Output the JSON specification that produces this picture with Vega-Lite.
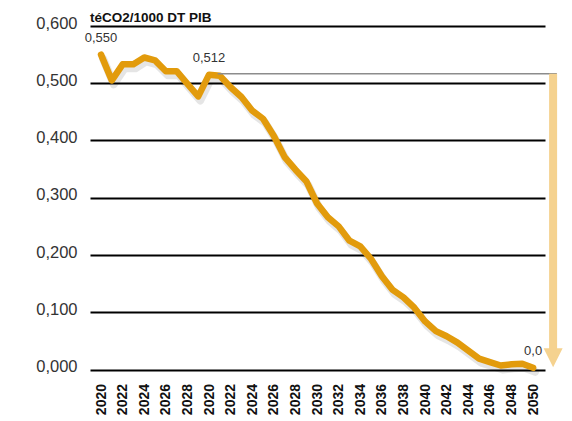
{
  "$schema": "https://vega.github.io/schema/vega-lite/v6.json",
  "width": 455,
  "height": 343.5,
  "autosize": {"type": "none"},
  "padding": {"left": 90, "top": 26, "right": 27, "bottom": 51.5},
  "config": {"view": {"stroke": null}, "font": "Liberation Sans"},
  "title": {
    "text": "téCO2/1000 DT PIB",
    "anchor": "start",
    "frame": "group",
    "font": "Liberation Sans",
    "fontSize": 13.5,
    "fontWeight": "bold",
    "color": "#111111",
    "offset": -9
  },
  "data": {
    "values": [
      {"year": 2010, "value": 0.550, "label": "0,550"},
      {"year": 2011, "value": 0.505},
      {"year": 2012, "value": 0.533},
      {"year": 2013, "value": 0.533},
      {"year": 2014, "value": 0.545},
      {"year": 2015, "value": 0.540},
      {"year": 2016, "value": 0.521},
      {"year": 2017, "value": 0.521},
      {"year": 2018, "value": 0.499},
      {"year": 2019, "value": 0.477},
      {"year": 2020, "value": 0.515, "label": "0,512"},
      {"year": 2021, "value": 0.513},
      {"year": 2022, "value": 0.493},
      {"year": 2023, "value": 0.476},
      {"year": 2024, "value": 0.452},
      {"year": 2025, "value": 0.438},
      {"year": 2026, "value": 0.408},
      {"year": 2027, "value": 0.371},
      {"year": 2028, "value": 0.349},
      {"year": 2029, "value": 0.329},
      {"year": 2030, "value": 0.290},
      {"year": 2031, "value": 0.266},
      {"year": 2032, "value": 0.250},
      {"year": 2033, "value": 0.225},
      {"year": 2034, "value": 0.215},
      {"year": 2035, "value": 0.193},
      {"year": 2036, "value": 0.163},
      {"year": 2037, "value": 0.139},
      {"year": 2038, "value": 0.126},
      {"year": 2039, "value": 0.108},
      {"year": 2040, "value": 0.084},
      {"year": 2041, "value": 0.067},
      {"year": 2042, "value": 0.058},
      {"year": 2043, "value": 0.047},
      {"year": 2044, "value": 0.033},
      {"year": 2045, "value": 0.019},
      {"year": 2046, "value": 0.013},
      {"year": 2047, "value": 0.007},
      {"year": 2048, "value": 0.009},
      {"year": 2049, "value": 0.010},
      {"year": 2050, "value": 0.003, "label": "0,0"}
    ]
  },
  "encoding": {
    "x": {
      "field": "year", "type": "quantitative",
      "scale": {"domain": [2008.98, 2051.1], "nice": false, "zero": false},
      "axis": {
        "title": null,
        "values": [2010, 2012, 2014, 2016, 2018, 2020, 2022, 2024, 2026, 2028, 2030, 2032, 2034, 2036, 2038, 2040, 2042, 2044, 2046, 2048, 2050],
        "tickCount": 50,
        "labelExpr": "datum.value < 2020 ? '' + (datum.value + 10) : '' + datum.value",
        "labelAngle": -90,
        "labelAlign": "right",
        "labelBaseline": "middle",
        "labelFont": "Liberation Sans",
        "labelFontSize": 14,
        "labelFontWeight": "bold",
        "labelColor": "#111111",
        "labelPadding": 14,
        "ticks": false,
        "tickSize": 0,
        "domain": false,
        "grid": false,
        "labelOverlap": false,
        "labelBound": false,
        "labelFlush": false
      }
    },
    "y": {
      "field": "value", "type": "quantitative",
      "scale": {"domain": [0, 0.6], "nice": false},
      "axis": {
        "title": null,
        "values": [0, 0.1, 0.2, 0.3, 0.4, 0.5, 0.6],
        "tickCount": 20,
        "labelExpr": "replace(format(datum.value, '.3f'), '.', ',')",
        "labelFont": "Liberation Sans",
        "labelFontSize": 16.5,
        "labelColor": "#333333",
        "labelPadding": 13,
        "labelOffset": -3,
        "ticks": false,
        "tickSize": 0,
        "domain": false,
        "grid": true,
        "gridColor": "#000000",
        "gridWidth": 2,
        "gridOpacity": 1
      }
    }
  },
  "layer": [
    {
      "mark": {"type": "line", "color": "#000000", "opacity": 0.1, "strokeWidth": 8, "strokeJoin": "round", "strokeCap": "round", "xOffset": 2, "yOffset": 4}
    },
    {
      "mark": {"type": "line", "color": "#E29B0C", "strokeWidth": 6.5, "strokeJoin": "round", "strokeCap": "round"}
    },
    {
      "transform": [{"filter": "isValid(datum.label)"}],
      "mark": {"type": "text", "font": "Liberation Sans", "fontSize": 13, "color": "#333333", "dy": -17, "baseline": "middle", "align": "center"},
      "encoding": {
        "text": {"field": "label"}
      }
    },
    {
      "data": {"values": [{"year": 2020.8, "year2": 2052.2, "value": 0.5165}]},
      "mark": {"type": "rule", "color": "#8c8c8c", "strokeWidth": 1.5},
      "encoding": {
        "x2": {"field": "year2"}
      }
    },
    {
      "data": {"values": [{"year": 2051.85, "value": 0.5165, "value2": 0.036}]},
      "mark": {"type": "rule", "color": "#F5D28F", "strokeWidth": 8, "strokeCap": "butt"},
      "encoding": {
        "y2": {"field": "value2"}
      }
    },
    {
      "data": {"values": [{"year": 2051.85, "value": 0.0205}]},
      "mark": {"type": "point", "shape": "M-1,-1L1,-1L0,1Z", "size": 361, "filled": true, "color": "#F5D28F", "opacity": 1}
    }
  ]
}
